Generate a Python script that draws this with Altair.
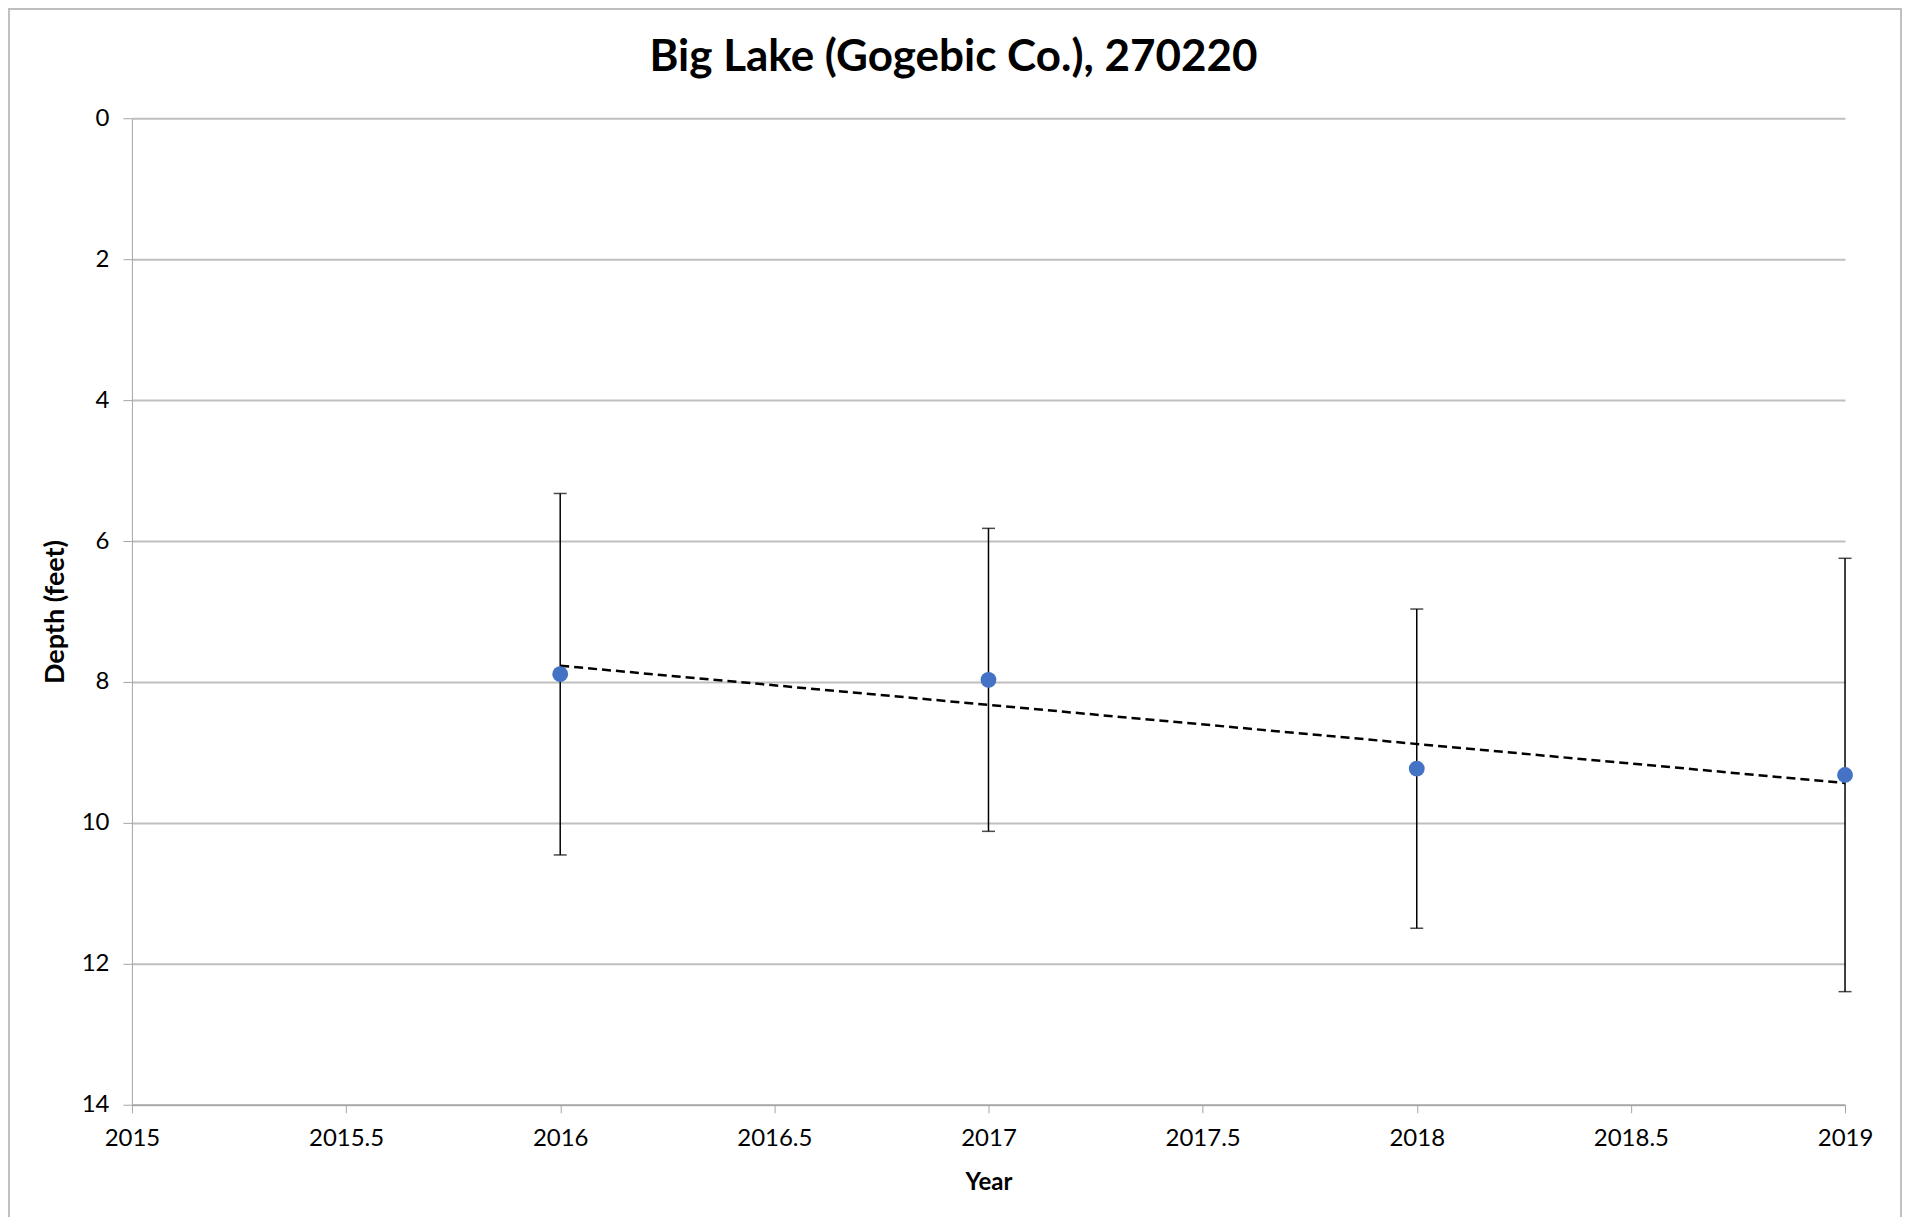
import altair as alt
import pandas as pd

# ---- data ----
years = [2016, 2017, 2018, 2019]
depth = [7.89, 7.97, 9.23, 9.32]
err = [2.565, 2.15, 2.265, 3.075]

x_ticks = [2015, 2015.5, 2016, 2016.5, 2017, 2017.5, 2018, 2018.5, 2019]
y_ticks = [0, 2, 4, 6, 8, 10, 12, 14]

title_text = "Big Lake (Gogebic Co.), 270220"
x_title = "Year"
y_title = "Depth (feet)"

df = pd.DataFrame({"year": years, "depth": depth, "err": err})
df["lo"] = df["depth"] - df["err"]
df["hi"] = df["depth"] + df["err"]

FONT = "Lato"
W, H = 1714, 987
PAD = {"left": 124, "top": 110, "right": 57, "bottom": 112}

xscale = alt.Scale(domain=[2015, 2019], nice=False, zero=False)
yscale = alt.Scale(domain=[0, 14], reverse=True, nice=False)

x_axis = alt.Axis(
    values=x_ticks, labelExpr="datum.value + ''", title=x_title, grid=False,
    labelFlush=False, labelOverlap=False,
    labelFont=FONT, labelFontSize=24, labelColor="#000", labelPadding=14,
    titleFont=FONT, titleFontSize=24, titleFontWeight="bold", titleColor="#000",
    titlePadding=20, tickSize=8, tickColor="#a6a6a6", tickWidth=1,
    domainColor="#a6a6a6", domainWidth=1.5,
)
y_axis = alt.Axis(
    values=y_ticks, title=y_title, grid=True, gridColor="#bfbfbf", gridWidth=2,
    labelFont=FONT, labelFontSize=24, labelColor="#000", labelPadding=14,
    titleFont=FONT, titleFontSize=27, titleFontWeight="bold", titleColor="#000",
    titlePadding=12, tickSize=9, tickColor="#a6a6a6", tickWidth=1,
    domainColor="#a6a6a6", domainWidth=1,
)

def X(field):
    return alt.X(field, scale=xscale, axis=x_axis, title=x_title)

def Y(field):
    return alt.Y(field, scale=yscale, axis=y_axis, title=y_title)

base = alt.Chart(df)

frame = base.mark_rect(fill="transparent", stroke="#bfbfbf", strokeWidth=1.5).encode(
    x=alt.value(-PAD["left"] + 0.75),
    x2=alt.value(W + PAD["right"] - 0.75),
    y=alt.value(-PAD["top"] + 0.75),
    y2=alt.value(H + PAD["bottom"] + 20),
)

bars = base.mark_rule(color="#000", strokeWidth=1.5).encode(
    x=X("year:Q"), y=Y("lo:Q"), y2="hi:Q",
)
cap_lo = base.mark_tick(color="#000", orient="horizontal", size=13, thickness=1.5).encode(
    x=X("year:Q"), y=Y("lo:Q"),
)
cap_hi = base.mark_tick(color="#000", orient="horizontal", size=13, thickness=1.5).encode(
    x=X("year:Q"), y=Y("hi:Q"),
)
trend = base.transform_regression("year", "depth").mark_line(
    color="#000", strokeWidth=2.5, strokeDash=[9, 5]
).encode(
    x=X("year:Q"), y=Y("depth:Q"),
)
points = base.mark_circle(color="#4472C4", opacity=1, size=250).encode(
    x=X("year:Q"), y=Y("depth:Q"),
)

chart = alt.layer(frame, bars, cap_lo, cap_hi, trend, points).properties(
    width=W, height=H,
    title=alt.TitleParams(
        title_text, font=FONT, fontSize=44, fontWeight="bold", color="#000",
        anchor="middle", dx=-35, dy=72, offset=0,
    ),
    autosize=alt.AutoSizeParams(type="none"),
    padding=PAD,
).configure_view(stroke="transparent")

chart.save("out.html", embed_options={"renderer": "svg", "actions": False})
